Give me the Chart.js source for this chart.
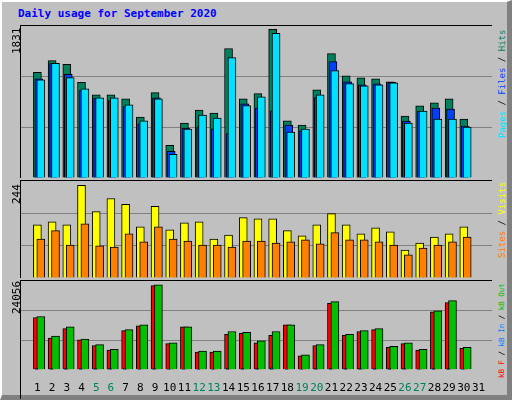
<!DOCTYPE html>
<html>
<head>
<meta charset="utf-8">
<script src="https://cdn.jsdelivr.net/npm/chart.js@4.4.1/dist/chart.umd.min.js"></script>
<style>
body { margin: 0; background: #fff; }
#frame { position: absolute; left: 0; top: 0; width: 505px; height: 393px; background: #c0c0c0;
  border-top: 2px solid #fff; border-left: 2px solid #fff; border-right: 5px solid #808080; border-bottom: 5px solid #808080; box-sizing: content-box; }
#title { position: absolute; left: 18px; top: 7px; font: bold 11px "DejaVu Sans Mono", monospace; color: #0000ff; }
.panel { position: absolute; left: 20px; width: 471px; border-top: 1px solid #000; border-left: 1px solid #000; }
.vlab { position: absolute; font: 11px "DejaVu Sans Mono", monospace; transform: rotate(-90deg); transform-origin: left top; white-space: nowrap; }
.rlab { font-size: 9px; }
</style>
</head>
<body>
<div id="frame"></div>
<div id="title">Daily usage for September 2020</div>
<div class="panel" style="top:25px;height:152px"><canvas id="c1"></canvas></div>
<div class="panel" style="top:180px;height:97px"><canvas id="c2"></canvas></div>
<div class="panel" style="top:280px;height:118px"><canvas id="c3"></canvas></div>
<div class="vlab" style="left:10px;top:54px;color:#000">1831</div>
<div class="vlab" style="left:10px;top:204px;color:#000">244</div>
<div class="vlab" style="left:10px;top:314px;color:#000">24056</div>
<div class="vlab rlab" style="left:497px;top:138px"><span style="color:#00e0ff">Pages</span> / <span style="color:#0040ff">Files</span> / <span style="color:#00805c">Hits</span></div>
<div class="vlab rlab" style="left:497px;top:258px"><span style="color:#ff8000">Sites</span> / <span style="color:#ffff00">Visits</span></div>
<div class="vlab rlab" style="left:497px;top:378px;font-size:7.5px"><span style="color:#ff0000">kB F</span> / <span style="color:#0080ff">kB In</span> / <span style="color:#00c000">kB Out</span></div>
<script>
const days = Array.from({ length: 31 }, (_, i) => i + 1);
const weekendDays = [5, 6, 12, 13, 19, 20, 26, 27];

const hits  = [1272, 1414, 1369, 1151, 1001, 1001, 953, 734, 1029, 394, 661, 819, 782, 1560, 953, 1017, 1791, 689, 637, 1062, 1499, 1232, 1208, 1196, 1159, 746, 868, 904, 953, 710, 0];
const files = [1196, 1378, 1248, 1053, 960, 932, 859, 652, 965, 321, 600, 616, 592, 535, 892, 843, 810, 637, 567, 968, 1402, 1159, 1123, 1135, 1151, 685, 802, 843, 831, 624, 0];
const pages = [1183, 1381, 1211, 1074, 965, 965, 880, 689, 953, 284, 588, 758, 722, 1451, 871, 977, 1742, 552, 588, 1001, 1293, 1138, 1111, 1123, 1147, 661, 807, 710, 710, 612, 0];

const visits = [134, 141, 134, 233, 167, 200, 185, 129, 180, 121, 139, 141, 98, 108, 152, 149, 149, 119, 106, 134, 162, 134, 111, 126, 116, 70, 88, 103, 111, 129, 0];
const sites  = [98, 119, 83, 136, 81, 78, 111, 91, 129, 98, 93, 83, 83, 78, 93, 93, 88, 91, 96, 86, 114, 96, 96, 91, 83, 58, 75, 83, 91, 103, 0];

const kbF   = [14180, 8610, 11140, 8100, 6580, 5320, 10630, 11900, 22790, 7090, 11650, 4810, 4810, 9620, 9870, 7340, 9370, 12150, 3800, 6580, 17980, 9370, 10380, 10890, 6080, 7090, 5320, 15700, 18230, 5820, 0];
const kbIn  = [300, 300, 300, 300, 300, 300, 300, 200, 300, 200, 200, 200, 200, 300, 300, 300, 500, 200, 200, 300, 300, 300, 300, 300, 300, 300, 200, 300, 300, 200, 0];
const kbOut = [14430, 9115, 11650, 8355, 6840, 5570, 10890, 12150, 23040, 7340, 11650, 5060, 5060, 10380, 10130, 7850, 10380, 12150, 4050, 6840, 18480, 9620, 10630, 11140, 6330, 7340, 5570, 15950, 18740, 6080, 0];

const PX = 471 / 31; // pixels per day

function xAxis(shiftPx, show) {
  const s = shiftPx / PX;
  return {
    type: 'linear', min: 0.5 - s, max: 31.5 - s, display: show,
    grid: { display: false }, border: { display: false },
    afterBuildTicks: ax => { ax.ticks = days.map(v => ({ value: v })); },
    ticks: {
      autoSkip: false, maxRotation: 0, padding: 4,
      font: { family: '"DejaVu Sans Mono", monospace', size: 11 },
      color: c => weekendDays.includes(c.tick.value) ? '#00805c' : '#000'
    }
  };
}

function yAxis(max) {
  return {
    min: 0, max: max,
    border: { display: false },
    afterBuildTicks: ax => { ax.ticks = [0, max / 3, 2 * max / 3, max].map(v => ({ value: v })); },
    grid: { color: c => (c.index === 1 || c.index === 2) ? '#808080' : 'rgba(0,0,0,0)', lineWidth: 1, drawTicks: false },
    ticks: { display: false }
  };
}

// order: higher numbers are drawn first (underneath)
function ds(values, color, axis, width, order) {
  return {
    data: days.map((d, i) => ({ x: d, y: values[i] })),
    backgroundColor: color, borderColor: '#000', borderWidth: 1,
    borderSkipped: 'bottom', barThickness: width, grouped: false, xAxisID: axis, order
  };
}

function panel(id, datasets, axes, max) {
  const scales = { y: yAxis(max) };
  axes.forEach(a => { scales[a.id] = a.axis; });
  new Chart(document.getElementById(id), {
    type: 'bar',
    data: { datasets },
    options: {
      animation: false, responsive: true, maintainAspectRatio: false,
      layout: { padding: 0 },
      plugins: { legend: { display: false }, tooltip: { enabled: false } },
      scales
    }
  });
}

panel('c1', [
  ds(hits, '#00805c', 'xa', 8, 3),
  ds(files, '#0040ff', 'xb', 8, 2),
  ds(pages, '#00e0ff', 'xc', 8, 1)
], [
  { id: 'xa', axis: xAxis(1.5, false) },
  { id: 'xb', axis: xAxis(3, false) },
  { id: 'xc', axis: xAxis(5, false) }
], 1831);

panel('c2', [
  ds(visits, '#ffff00', 'xa', 8, 2),
  ds(sites, '#ff8000', 'xc', 8, 1)
], [
  { id: 'xa', axis: xAxis(1.5, false) },
  { id: 'xc', axis: xAxis(5, false) }
], 244);

panel('c3', [
  ds(kbF, '#ff0000', 'xa', 8, 3),
  ds(kbIn, '#0080ff', 'xb', 3, 1),
  ds(kbOut, '#00c000', 'xc', 8, 2)
], [
  { id: 'xa', axis: xAxis(1.5, true) },
  { id: 'xb', axis: xAxis(0.5, false) },
  { id: 'xc', axis: xAxis(5, false) }
], 24056);
</script>
</body>
</html>
